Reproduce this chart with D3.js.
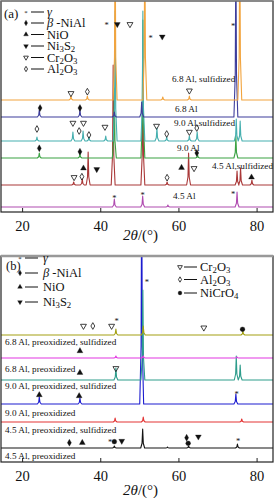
<!DOCTYPE html>
<html><head><meta charset="utf-8">
<script src="https://cdn.jsdelivr.net/npm/d3@7"></script>
<style>body{margin:0;background:#fff}svg{display:block}text{font-family:"Liberation Serif","Times New Roman",serif;fill:#111}</style>
</head><body><svg id="c" width="275" height="498"></svg>
<script>
// ---------- data ----------
const xTicks = [20, 40, 60, 80];
const xDomain = [14.6, 84.2];

// panel (a)
const namesA = ["6.8 Al, sulfidized", "6.8 Al", "9.0 Al,sulfidized", "9.0 Al", "4.5 Al,sulfidized", "4.5 Al"];
const offsetsA = [112, 95, 71, 54, 27, 5];
const peaksA_68S = [[32.5,4],[36.7,4],[43.8,170],[51.4,170],[56.0,3],[62.8,4],[75.7,170]];
const peaksA_68 = [[24.4,7],[34.8,7],[43.6,5],[50.6,15],[74.7,170]];
const peaksA_90S = [[23.8,4],[33.0,9],[35.6,10],[37.1,4],[41.4,5],[43.8,130],[50.9,130],[54.5,13],[57.0,4],[62.8,5],[64.8,9],[74.8,22],[75.8,20]];
const peaksA_90 = [[24.4,5],[34.8,4],[43.6,70],[50.9,138],[64.9,3],[74.7,22]];
const peaksA_45S = [[33.2,3],[35.4,6],[36.9,33],[43.3,120],[50.9,120],[57.1,3],[62.6,32],[75.0,14],[75.9,17],[78.8,5]];
const peaksA_45 = [[43.6,8],[50.85,11],[57.3,2],[75.0,15]];

// markers (a): [2θ, level, phase]
const markersA = [
  [41.65,187.7,"g"],[44.36,187.7,"nis"],[47.6,187.7,"cr"],[52.9,175.3,"g"],[55.86,175.3,"nis"],[74.0,187,"g"],
  [32.5,118.7,"cr"],[36.7,120.3,"al"],[62.8,121.3,"cr"],
  [24.6,104,"b"],[34.8,104,"b"],
  [23.8,83,"al"],[33.0,89,"cr"],[34.6,81,"al"],[35.7,89,"cr"],[37.1,77,"al"],[41.2,85,"cr"],[54.4,86,"cr"],[57.0,78,"al"],[62.8,80,"cr"],[64.7,84,"al"],
  [24.4,63.7,"b"],[34.8,60.3,"b"],[64.7,59,"b"],
  [35.7,43.7,"nio"],[39.1,42.7,"nis"],[33.3,34.7,"cr"],[35.3,35.3,"al"],[60.8,44.3,"nio"],[64.0,43.7,"cr"],[57.1,34.3,"al"],[78.7,34.7,"nio"],
  [43.6,15.3,"g"],[50.85,18,"g"],[74.0,18.7,"g"]
];

// panel (b)
const namesB = ["6.8 Al, preoxidized, sulfidized", "6.8 Al, preoxidized", "9.0 Al, preoxidized, sulfidized", "9.0 Al, preoxidized", "4.5 Al, preoxidized, sulfidized", "4.5 Al, preoxidized"];
const offsetsB = [127, 104, 82, 58, 40, 14];
const peaksB_68PS = [[44.0,6],[51.0,9],[76.5,4]];
const peaksB_68P = [[44.0,2],[51.0,2],[75.0,1]];
const peaksB_90PS = [[44.0,12],[50.9,90],[74.8,24],[75.8,15]];
const peaksB_90P = [[24.4,7],[34.8,6],[50.6,230],[74.7,10]];
const peaksB_45PS = [[43.8,4],[51.0,5],[76.2,3]];
const peaksB_45P = [[43.6,2],[50.85,19],[57.2,1],[62.6,2],[75.1,4]];

const markersB = [
  [35.7,136,"cr"],[38.1,136,"al"],[42.9,136,"cr"],[44.2,142,"g"],[51.9,181.3,"g"],[66.5,134.3,"cr"],[76.4,132.7,"nc"],
  [34.8,111,"nio"],[44.0,93.7,"cr"],
  [34.8,89.3,"nio"],
  [24.4,67,"nio"],[34.6,66,"nio"],[74.9,69.3,"g"],
  [32.1,19.3,"b"],[35.4,19.3,"nio"],[42.5,21,"g"],[43.6,20.3,"nc"],[45.5,21,"nis"],[62.1,24.3,"b"],[62.5,18.7,"nc"],[65.1,25.3,"nis"],[75.3,22,"g"]
];

const legendA = ["g","b","nio","nis","cr","al"];
const legendBLeft = ["g","b","nio","nis"];
const legendBRight = ["cr","al","nc"];

// ---------- drawing ----------
const svg = d3.select("#c");
const colorsA = ["#f2a43e","#3d3d9c","#47b0b0","#3ba243","#aa3838","#b04cb0"];
const colorsB = ["#a3a012","#e236e2","#2e9d8c","#1c1ccf","#e33434","#141414"];

const phaseText = {
  g: [["γ","it"]],
  b: [["β","it"],[" -NiAl"]],
  nio: [["NiO"]],
  nis: [["Ni"],["3","sub"],["S"],["2","sub"]],
  cr: [["Cr"],["2","sub"],["O"],["3","sub"]],
  al: [["Al"],["2","sub"],["O"],["3","sub"]],
  nc: [["NiCrO"],["4","sub"]]
};

function rich(sel, x, y, parts, size) {
  const t = sel.append("text").attr("x", x).attr("y", y).attr("font-size", size);
  parts.forEach(p => {
    const ts = t.append("tspan").text(p[0]);
    if (p[1] === "it") ts.attr("font-style", "italic");
    if (p[1] === "sub") ts.attr("font-size", size * 0.7).attr("baseline-shift", "-18%");
  });
  return t;
}

function marker(g, x, y, type, s) {
  s = s || 1;
  if (type === "g") {
    g.append("text").attr("x", x).attr("y", y + 4*s).attr("text-anchor", "middle")
      .attr("font-size", 8.5*s).attr("font-family", "DejaVu Sans").text("*");
    return;
  }
  let sym, fill = "#111", rot = 0, size = 15*s*s;
  if (type === "b") { sym = d3.symbolDiamond; size = 14*s*s; }
  if (type === "al") { sym = d3.symbolDiamond; fill = "none"; size = 13*s*s; }
  if (type === "nio") { sym = d3.symbolTriangle; }
  if (type === "nis") { sym = d3.symbolTriangle; rot = 180; }
  if (type === "cr") { sym = d3.symbolTriangle; rot = 180; fill = "none"; }
  if (type === "nc") { sym = d3.symbolCircle; size = 18*s*s; }
  g.append("path").attr("d", d3.symbol(sym, size)())
    .attr("transform", `translate(${x},${y}) rotate(${rot})`)
    .attr("fill", fill).attr("stroke", "#111").attr("stroke-width", fill === "none" ? 0.8 : 0.3);
}

function buildLine(peaks) {
  const pts = [[xDomain[0], 0]];
  peaks.slice().sort((a, b) => a[0] - b[0]).forEach(([c, h]) => {
    pts.push([c - 0.5, 0], [c - 0.16, h * 0.25], [c, h], [c + 0.16, h * 0.25], [c + 0.5, 0]);
  });
  pts.push([xDomain[1], 0]);
  return pts;
}

function panel(cfg) {
  const {top, bottom, left, right, series, offsets, colors, names, labelPos, markers, clipId} = cfg;
  const x = d3.scaleLinear().domain(xDomain).range([left, right]);
  const y = d3.scaleLinear().domain([0, bottom - top]).range([bottom, top]);
  const g = svg.append("g");
  g.append("clipPath").attr("id", clipId).append("rect")
    .attr("x", left).attr("y", top).attr("width", right - left).attr("height", bottom - top);
  const line = d3.line().x(d => x(d[0])).y(d => y(d[1]));
  const lg = g.append("g").attr("clip-path", `url(#${clipId})`);
  for (let i = series.length - 1; i >= 0; i--) {
    const pts = buildLine(series[i]).map(p => [p[0], p[1] + offsets[i]]);
    lg.append("path").attr("d", line(pts)).attr("fill", "none")
      .attr("stroke", colors[i]).attr("stroke-width", 1.1).attr("stroke-linejoin", "round");
  }
  names.forEach((n, i) => {
    g.append("text").attr("x", labelPos[i][0]).attr("y", labelPos[i][1] + 3.2)
      .attr("font-size", 9.2).text(n);
  });
  markers.forEach(m => marker(g, x(m[0]), y(m[1]), m[2]));
  g.append("rect").attr("x", left).attr("y", top).attr("width", right - left).attr("height", bottom - top)
    .attr("fill", "none").attr("stroke", "#222").attr("stroke-width", 1.2);
  g.append("line").attr("x1", left).attr("x2", right).attr("y1", top).attr("y2", top)
    .attr("stroke", "#999").attr("stroke-width", cfg.topW);
  const ax = d3.axisBottom(x).tickValues(xTicks).tickSize(-4).tickPadding(6).tickFormat(d3.format("d"));
  const axg = g.append("g").attr("transform", `translate(0,${bottom})`).call(ax);
  axg.select(".domain").remove();
  axg.selectAll("line").attr("stroke", "#222");
  axg.selectAll("text").attr("font-size", 14.5).attr("font-family", "Liberation Serif").attr("dy", "0.9em").attr("fill", "#111");
  const tt = rich(g, x(50.3), cfg.titleY, [["2θ","it"],["/(°)"]], 15);
  tt.attr("text-anchor", "middle");
  return {x, y, g};
}

panel({
  top: 1, bottom: 212, left: 1, right: 273, clipId: "ca",
  series: [peaksA_68S, peaksA_68, peaksA_90S, peaksA_90, peaksA_45S, peaksA_45],
  offsets: offsetsA, colors: colorsA, names: namesA,
  labelPos: [[172,79],[175,109],[174,122.5],[177,148],[212,165.7],[173,195.7]],
  markers: markersA, titleY: 240, topW: 1.2
});
panel({
  top: 256, bottom: 462, left: 1, right: 273, clipId: "cb",
  series: [peaksB_68PS, peaksB_68P, peaksB_90PS, peaksB_90P, peaksB_45PS, peaksB_45P],
  offsets: offsetsB, colors: colorsB, names: namesB,
  labelPos: [[5,341.7],[5,368.3],[5,386],[5,412.7],[5,429.3],[5,456]],
  markers: markersB, titleY: 495, topW: 2.5
});

svg.append("text").attr("x", 4).attr("y", 18).attr("font-size", 13).text("(a)");
svg.append("text").attr("x", 6).attr("y", 270).attr("font-size", 12.5).text("(b)");

function legend(rows, sx, lx1, lx2, tx, ys, fs) {
  rows.forEach((k, i) => {
    marker(svg, sx, ys[i], k, 0.8);
    svg.append("line").attr("x1", lx1).attr("x2", lx2).attr("y1", ys[i]).attr("y2", ys[i])
      .attr("stroke", "#111").attr("stroke-width", 1);
    rich(svg, tx, ys[i] + fs * 0.35, phaseText[k], fs);
  });
}
legend(legendA, 26, 31, 44, 47, [12, 23, 34.5, 46, 57.5, 69], 12.5);
legend(legendBLeft, 20, 25, 38, 43, [258, 273, 287, 302], 12.5);
legend(legendBRight, 180, 184, 197, 200, [267, 279.5, 293], 12.5);
</script></body></html>
